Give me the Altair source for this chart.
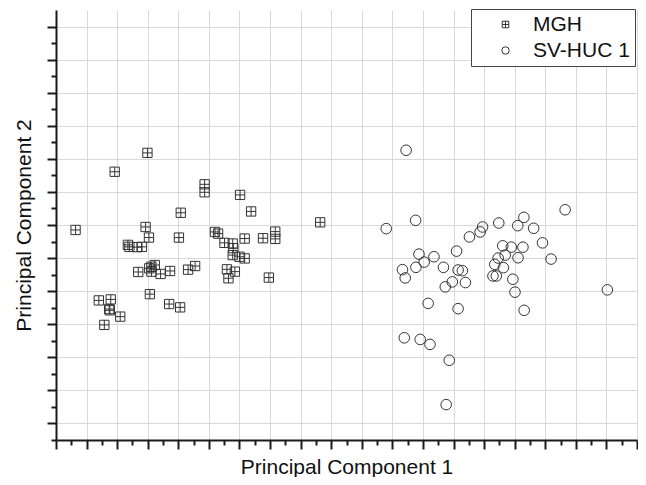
import altair as alt
import pandas as pd

groups = ["MGH", "SV-HUC 1"]

mgh_x = [0.64, 1.92, 2.99, 2.93, 3.04, 4.08, 4.02, 4.86, 4.86, 6.02, 6.38, 8.64, 5.20, 5.30,
         5.51, 5.78, 5.80, 5.78, 6.00, 6.17, 6.17, 6.77, 7.17, 7.17, 2.35, 2.40, 2.65, 2.81,
         2.69, 3.05, 3.12, 3.23, 3.12, 3.42, 3.73, 4.32, 4.55, 5.59, 5.85, 5.64, 6.96, 3.07,
         3.70, 4.06, 1.40, 1.79, 1.74, 1.76, 2.10, 1.58]
mgh_y = [6.35, 8.11, 8.68, 6.44, 6.12, 6.87, 6.12, 7.73, 7.49, 7.41, 6.91, 6.58, 6.29, 6.24,
         5.96, 5.94, 5.80, 5.59, 5.54, 5.49, 6.09, 6.10, 6.30, 6.08, 5.90, 5.84, 5.83, 5.84,
         5.08, 5.19, 5.24, 5.29, 5.09, 5.02, 5.11, 5.15, 5.26, 5.16, 5.09, 4.89, 4.91, 4.41,
         4.11, 4.01, 4.22, 4.25, 3.96, 3.92, 3.73, 3.48]

huc_x = [11.45, 10.80, 11.76, 11.33, 11.42, 11.77, 11.87, 12.04, 12.36, 12.67, 13.10, 13.15,
         13.29, 12.73, 12.96, 13.39, 13.52, 13.87, 13.95, 14.48, 15.10, 15.30, 15.62, 16.65,
         15.91, 14.61, 14.89, 15.27, 14.69, 15.11, 16.19, 14.35, 14.46, 14.63, 14.29, 14.40,
         14.94, 15.01, 15.31, 18.03, 12.17, 13.15, 11.39, 11.91, 12.23, 12.86, 12.76]
huc_y = [8.76, 6.39, 6.64, 5.15, 4.90, 5.22, 5.62, 5.38, 5.54, 5.22, 5.71, 5.14,
         5.12, 4.63, 4.78, 4.76, 6.14, 6.29, 6.44, 6.56, 6.48, 6.73, 6.40, 6.96,
         5.96, 5.87, 5.83, 5.83, 5.59, 5.51, 5.47, 5.31, 5.50, 5.21, 4.96, 4.96,
         4.86, 4.47, 3.92, 4.54, 4.13, 3.97, 3.09, 3.04, 2.89, 2.41, 1.07]

x_ticks = [i * 0.5 for i in range(0, 39)]      # majors at integers, minors at halves
y_ticks = [i * 0.5 for i in range(0, 26)]      # majors at halves, minors at integers

df = pd.DataFrame({
    "pc1": mgh_x + huc_x,
    "pc2": mgh_y + huc_y,
    "group": [groups[0]] * len(mgh_x) + [groups[1]] * len(huc_x),
})

BOXPLUS = "M-0.88,-0.88H0.88V0.88H-0.88Z M0,-0.88V0.88 M-0.88,0H0.88"

x_major = "datum.value % 1 === 0"
y_major = "datum.value % 1 !== 0"
FONT = "Liberation Sans"

chart = alt.Chart(df).mark_point(
    filled=False, size=112, strokeWidth=1, color="#333333", opacity=1
).encode(
    x=alt.X("pc1:Q",
            scale=alt.Scale(domain=[0, 19], nice=False, zero=False),
            axis=alt.Axis(values=x_ticks, labels=False, title="Principal Component 1",
                          tickSize={"condition": {"test": x_major, "value": 9}, "value": 5},
                          gridOpacity={"condition": {"test": x_major, "value": 1}, "value": 0},
                          titleY=33, titleBaseline="alphabetic")),
    y=alt.Y("pc2:Q",
            scale=alt.Scale(domain=[0, 13], nice=False, zero=False),
            axis=alt.Axis(values=y_ticks, labels=False, title="Principal Component 2",
                          tickSize={"condition": {"test": y_major, "value": 9}, "value": 5},
                          gridOpacity={"condition": {"test": y_major, "value": 1}, "value": 0},
                          titleX=-26, titleY=215, titleAngle=-90, titleAlign="center",
                          titleBaseline="alphabetic")),
    shape=alt.Shape("group:N",
                    scale=alt.Scale(domain=groups, range=[BOXPLUS, "circle"]),
                    legend=alt.Legend(title=None, orient="none", legendX=415, legendY=-1,
                                      fillColor="white", strokeColor="#444444",
                                      padding=5, rowPadding=4,
                                      labelFont=FONT, labelFontSize=21, labelColor="#111111",
                                      symbolSize=55, symbolStrokeWidth=1,
                                      symbolStrokeColor="#333333",
                                      symbolOffset=19, labelOffset=17)),
).properties(
    width=581, height=430,
    autosize=alt.AutoSizeParams(type="none"),
    padding={"left": 48, "top": 2, "right": 1, "bottom": 37},
).configure_view(
    stroke=None
).configure_axis(
    domainColor="#1a1a1a", domainWidth=2, tickColor="#1a1a1a", tickWidth=2,
    gridColor="#d9d9d9", gridWidth=1,
    titleFont=FONT, titleFontSize=21, titleFontWeight="normal", titleColor="#111111",
)

chart.save("out.html", embed_options={"renderer": "svg", "actions": False})
